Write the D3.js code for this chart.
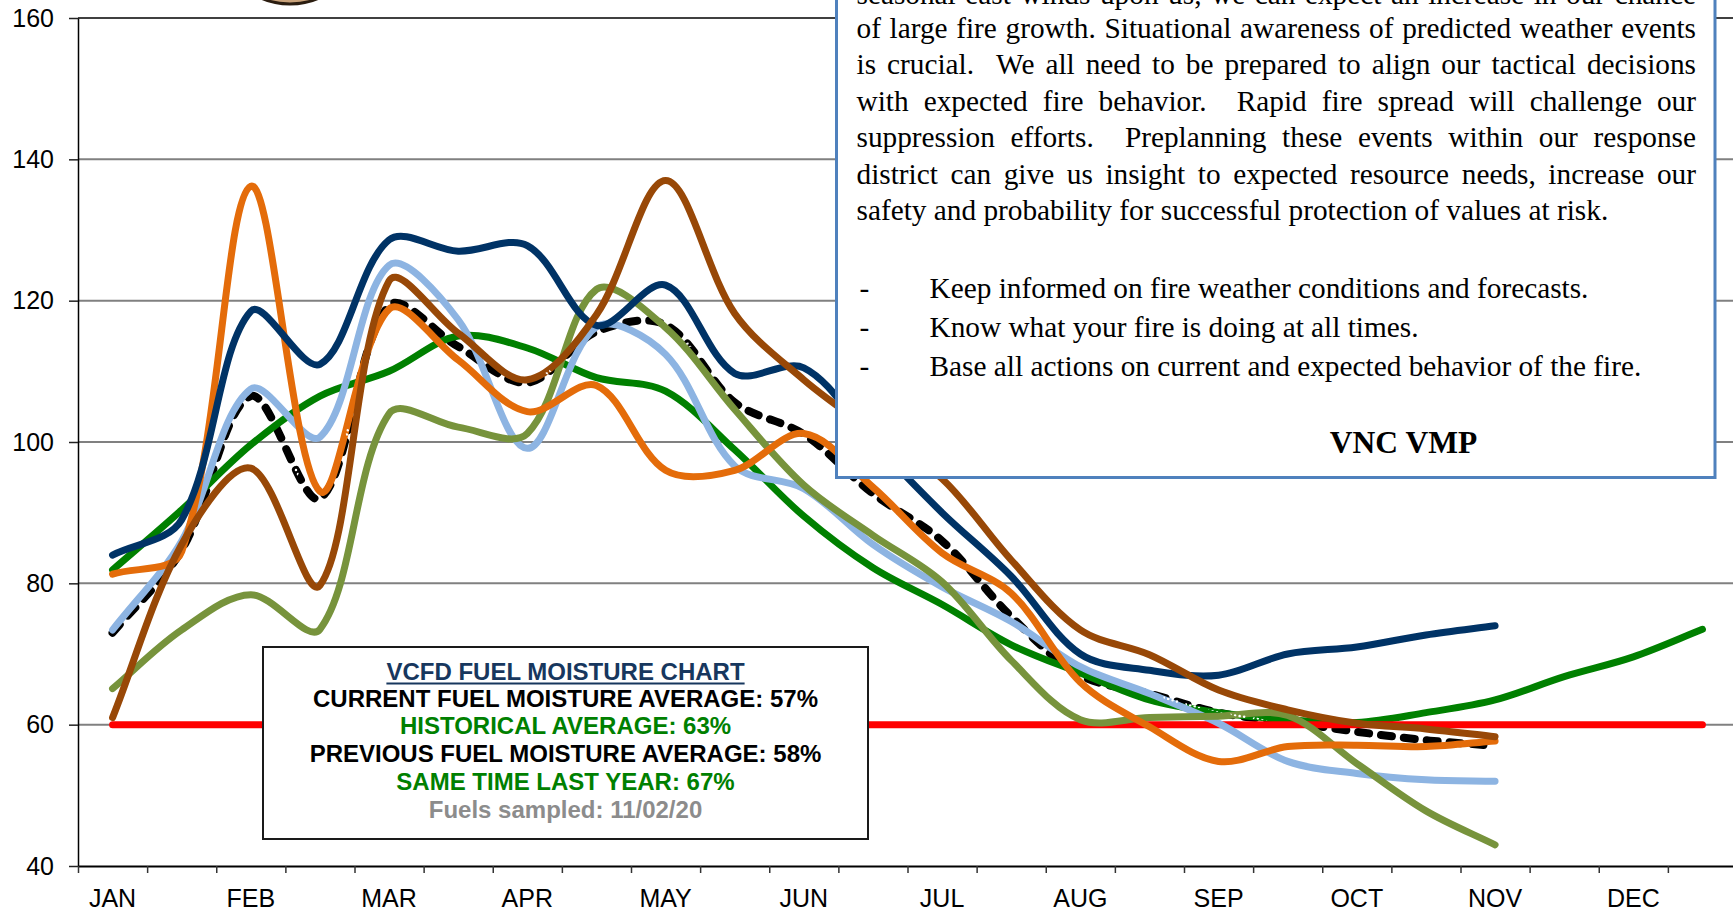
<!DOCTYPE html>
<html>
<head>
<meta charset="utf-8">
<script src="https://cdn.jsdelivr.net/npm/d3@7"></script>
<style>
  html, body { margin: 0; padding: 0; background: #fff; overflow: hidden; }
  svg { display: block; }
</style>
</head>
<body>
<div class="chart"></div>
<script>
// Chart data (semi-monthly sampling periods, 24 per year)
var months = ["JAN", "FEB", "MAR", "APR", "MAY", "JUN", "JUL", "AUG", "SEP", "OCT", "NOV", "DEC"];
var periods = d3.range(24);
var yTicks = [40, 60, 80, 100, 120, 140, 160];

var navy      = [84, 89, 118.5, 111, 128.6, 127, 127.8, 116.5, 122.2, 109.7, 110.5, 100, 90, 81, 70, 67.7, 67, 70, 71, 72.7, 74];
var orange    = [81.3, 84.5, 136.2, 93, 118.8, 111.6, 104.3, 108, 96, 96, 101.2, 93.6, 84.3, 78.6, 66, 59.7, 54.8, 56.9, 57.1, 56.9, 57.7];
var lightBlue = [73.4, 86, 107.5, 100.7, 125, 117.3, 99.1, 116.3, 112.4, 96.6, 93.4, 85.5, 79.5, 74.6, 68.2, 64.4, 60.2, 54.8, 53.1, 52.2, 52];
var brown     = [61, 85.5, 96.3, 79.7, 122.8, 115.4, 108.8, 118, 137, 118.2, 108.8, 101.5, 94.8, 83.3, 73.4, 69.9, 64.9, 62.1, 60.2, 59.4, 58.3];
var olive     = [65.1, 73.4, 78.4, 73.5, 104, 102.1, 101.2, 121.6, 116.2, 104.6, 93.9, 86.8, 80.2, 69.1, 60.7, 61, 61.2, 61.3, 54.5, 47.8, 43];
var historical = [81.9, 90.4, 99.6, 106.5, 110, 115, 113.3, 109.1, 107.2, 98.9, 89.5, 82.2, 77, 71.3, 67.3, 63.5, 61.7, 60.7, 60.3, 61.7, 63.5, 66.8, 69.6, 73.5];
var average   = [73, 84.7, 106.5, 92, 119.3, 113.5, 108.4, 115.6, 116.6, 105.6, 101.1, 92.7, 86, 75.3, 67, 64.4, 61.7, 60.4, 59, 57.8, 57];
var critical  = [60, 60, 60, 60, 60, 60, 60, 60, 60, 60, 60, 60, 60, 60, 60, 60, 60, 60, 60, 60, 60, 60, 60, 60];

var legendLines = [
  {text: "CURRENT FUEL MOISTURE AVERAGE: 57%", color: "#000"},
  {text: "HISTORICAL AVERAGE: 63%", color: "#008000"},
  {text: "PREVIOUS FUEL MOISTURE AVERAGE: 58%", color: "#000"},
  {text: "SAME TIME LAST YEAR: 67%", color: "#008000"},
  {text: "Fuels sampled: 11/02/20", color: "#8c8c8c"}
];

var noteLines = [
  "seasonal east winds upon us, we can expect an increase in our chance",
  "of large fire growth. Situational awareness of predicted weather events",
  "is crucial.  We all need to be prepared to align our tactical decisions",
  "with expected fire behavior.  Rapid fire spread will challenge our",
  "suppression efforts.  Preplanning these events within our response",
  "district can give us insight to expected resource needs, increase our",
  "safety and probability for successful protection of values at risk."
];
var noteBullets = [
  "Keep informed on fire weather conditions and forecasts.",
  "Know what your fire is doing at all times.",
  "Base all actions on current and expected behavior of the fire."
];

// Set up the chart
var svgWidth = 1733;
var svgHeight = 914;
var margin = {top: 18, left: 78};
var width = 1659;
var height = 848;

var svg = d3.select(".chart")
  .append("svg")
  .attr("width", svgWidth)
  .attr("height", svgHeight);

// bit of the logo peeking in at the top
svg.append("ellipse")
  .attr("cx", 290).attr("cy", -23)
  .attr("rx", 46).attr("ry", 27)
  .attr("fill", "#c9a27a")
  .attr("stroke", "#2b1d10")
  .attr("stroke-width", 3);

var chartGroup = svg.append("g")
  .attr("transform", `translate(${margin.left},${margin.top})`);

// scales
var x = d3.scaleBand().domain(periods).range([0, width]);
var xc = function(i) { return x(i) + x.bandwidth() / 2; };
var xEdge = d3.scaleLinear().domain([0, 24]).range([0, width]);
var y = d3.scaleLinear().domain([40, 160]).range([height, 0]);

// gridlines
chartGroup.selectAll(".grid")
  .data(yTicks.filter(d => d > 40))
  .enter()
  .append("line")
  .attr("x1", 0)
  .attr("x2", width)
  .attr("y1", d => y(d))
  .attr("y2", d => y(d))
  .attr("stroke", d => d === 160 ? "#000" : "#808080")
  .attr("stroke-width", d => d === 160 ? 1.3 : 2);

// axes
var leftAxis = d3.axisLeft(y)
  .tickValues(yTicks)
  .tickSize(9)
  .tickSizeOuter(0)
  .tickPadding(15);

var yAxisG = chartGroup.append("g").call(leftAxis);
yAxisG.selectAll("text")
  .attr("font-family", "'Liberation Sans', Arial, sans-serif")
  .attr("font-size", 25)
  .attr("fill", "#000");
yAxisG.selectAll(".tick line").attr("stroke", "#222").attr("stroke-width", 1.5);
yAxisG.select(".domain").attr("stroke", "#000").attr("stroke-width", 1.5);

var bottomAxis = d3.axisBottom(xEdge)
  .tickValues(d3.range(25))
  .tickFormat("")
  .tickSize(7)
  .tickSizeOuter(0);

var xAxisG = chartGroup.append("g")
  .attr("transform", `translate(0, ${height})`)
  .call(bottomAxis);
xAxisG.selectAll(".tick line").attr("stroke", "#333").attr("stroke-width", 1.5);
xAxisG.select(".domain").attr("stroke", "#000").attr("stroke-width", 2);

chartGroup.selectAll(".month")
  .data(months)
  .enter()
  .append("text")
  .attr("x", (d, i) => xc(i * 2))
  .attr("y", height + 41)
  .attr("text-anchor", "middle")
  .attr("font-family", "'Liberation Sans', Arial, sans-serif")
  .attr("font-size", 25)
  .text(d => d);

// smoothed line, spreadsheet style (tangents weighted by segment length)
function smoothPath(vals) {
  var pts = vals.map((v, i) => [xc(i), y(v)]);
  var n = pts.length;
  var p = d3.path();
  var dist = (a, b) => Math.hypot(b[0] - a[0], b[1] - a[1]);
  p.moveTo(pts[0][0], pts[0][1]);
  for (var i = 0; i < n - 1; i++) {
    var p0 = pts[Math.max(i - 1, 0)], p1 = pts[i], p2 = pts[i + 1], p3 = pts[Math.min(i + 2, n - 1)];
    var d01 = dist(p0, p1), d12 = dist(p1, p2), d23 = dist(p2, p3);
    var f1 = (d01 + d12) > 0 ? d12 / (d01 + d12) / 3 : 0;
    var f2 = (d12 + d23) > 0 ? d12 / (d12 + d23) / 3 : 0;
    p.bezierCurveTo(
      p1[0] + (p2[0] - p0[0]) * f1, p1[1] + (p2[1] - p0[1]) * f1,
      p2[0] - (p3[0] - p1[0]) * f2, p2[1] - (p3[1] - p1[1]) * f2,
      p2[0], p2[1]);
  }
  return p.toString();
}

// dotted average line: black dashes with white dots inside
var defs = svg.append("defs");
var mask = defs.append("mask")
  .attr("id", "dotMask")
  .attr("maskUnits", "userSpaceOnUse")
  .attr("x", 0).attr("y", 0)
  .attr("width", svgWidth).attr("height", svgHeight);
mask.append("path")
  .attr("transform", `translate(${margin.left},${margin.top})`)
  .attr("d", smoothPath(average))
  .attr("fill", "none")
  .attr("stroke", "#fff")
  .attr("stroke-width", 5)
  .attr("stroke-linecap", "round")
  .attr("stroke-dasharray", "11 12");

chartGroup.append("path")
  .attr("d", smoothPath(average))
  .attr("fill", "none")
  .attr("stroke", "#000")
  .attr("stroke-width", 8)
  .attr("stroke-linecap", "round")
  .attr("stroke-dasharray", "11 12");

svg.append("path")
  .attr("transform", `translate(${margin.left},${margin.top})`)
  .attr("d", smoothPath(average))
  .attr("fill", "none")
  .attr("stroke", "#fff")
  .attr("stroke-width", 2.6)
  .attr("stroke-linecap", "round")
  .attr("stroke-dasharray", "0 4.6")
  .attr("mask", "url(#dotMask)");

var series = [
  {values: historical, color: "#008000"},
  {values: critical, color: "#ff0000"},
  {values: lightBlue, color: "#8db4e2"},
  {values: olive, color: "#77933c"},
  {values: orange, color: "#e46c0a"},
  {values: navy, color: "#003366"},
  {values: brown, color: "#984807"}
];

chartGroup.selectAll(".series")
  .data(series)
  .enter()
  .append("path")
  .attr("class", "series")
  .attr("d", d => smoothPath(d.values))
  .attr("fill", "none")
  .attr("stroke", d => d.color)
  .attr("stroke-width", 7)
  .attr("stroke-linecap", "round")
  .attr("stroke-linejoin", "round");

// legend box
var lx = 263, ly = 647, lw = 605, lh = 192;
svg.append("rect")
  .attr("x", lx).attr("y", ly)
  .attr("width", lw).attr("height", lh)
  .attr("fill", "#fff")
  .attr("stroke", "#1a1a1a")
  .attr("stroke-width", 2);

var lcx = lx + lw / 2;
var title = svg.append("text")
  .attr("x", lcx)
  .attr("y", 679.5)
  .attr("text-anchor", "middle")
  .attr("font-family", "'Liberation Sans', Arial, sans-serif")
  .attr("font-weight", "bold")
  .attr("font-size", 24)
  .attr("fill", "#17375e")
  .text("VCFD FUEL MOISTURE CHART");
var tw = title.node().getComputedTextLength();
svg.append("line")
  .attr("x1", lcx - tw / 2).attr("x2", lcx + tw / 2)
  .attr("y1", 683.5).attr("y2", 683.5)
  .attr("stroke", "#17375e")
  .attr("stroke-width", 2);

svg.selectAll(".legendLine")
  .data(legendLines)
  .enter()
  .append("text")
  .attr("x", lcx)
  .attr("y", (d, i) => 706.5 + i * 27.9)
  .attr("text-anchor", "middle")
  .attr("font-family", "'Liberation Sans', Arial, sans-serif")
  .attr("font-weight", "bold")
  .attr("font-size", 24)
  .attr("fill", d => d.color)
  .text(d => d.text);

// note text box
var nx = 836.5, nRight = 1715, nBottom = 477.5;
svg.append("rect")
  .attr("x", nx).attr("y", -10)
  .attr("width", nRight - nx).attr("height", nBottom + 10)
  .attr("fill", "#fff")
  .attr("stroke", "#4f81bd")
  .attr("stroke-width", 3);

var textLeft = 856.5, textRight = 1696;
var noteFont = "'Liberation Serif', 'Times New Roman', serif";
var noteBase = [3.5, 37.5, 74, 110.5, 147, 183.5, 220];

noteLines.forEach(function(str, li) {
  var yy = noteBase[li];
  if (li === noteLines.length - 1) {
    svg.append("text")
      .attr("x", textLeft).attr("y", yy)
      .attr("font-family", noteFont).attr("font-size", 29.3)
      .text(str);
    return;
  }
  // justified: place words, spread the spare room over the gaps
  var tokens = str.split(/( +)/);
  var words = tokens.filter((t, k) => k % 2 === 0);
  var gaps = tokens.filter((t, k) => k % 2 === 1).map(t => t.length);
  var nodes = words.map(function(w) {
    return svg.append("text")
      .attr("y", yy)
      .attr("font-family", noteFont).attr("font-size", 29.3)
      .text(w);
  });
  var widths = nodes.map(n => n.node().getComputedTextLength());
  var spare = (textRight - textLeft) - d3.sum(widths);
  var unit = spare / d3.sum(gaps);
  var cx = textLeft;
  nodes.forEach(function(n, k) {
    n.attr("x", cx);
    cx += widths[k] + (k < gaps.length ? gaps[k] * unit : 0);
  });
});

noteBullets.forEach(function(str, i) {
  var yy = 297.5 + i * 39;
  svg.append("text")
    .attr("x", 859.5).attr("y", yy)
    .attr("font-family", noteFont).attr("font-size", 29.3)
    .text("-");
  svg.append("text")
    .attr("x", 929.5).attr("y", yy)
    .attr("font-family", noteFont).attr("font-size", 29.3)
    .text(str);
});

svg.append("text")
  .attr("x", 1403.5).attr("y", 453)
  .attr("text-anchor", "middle")
  .attr("font-family", noteFont)
  .attr("font-weight", "bold")
  .attr("font-size", 31.5)
  .text("VNC VMP");
</script>
</body>
</html>
